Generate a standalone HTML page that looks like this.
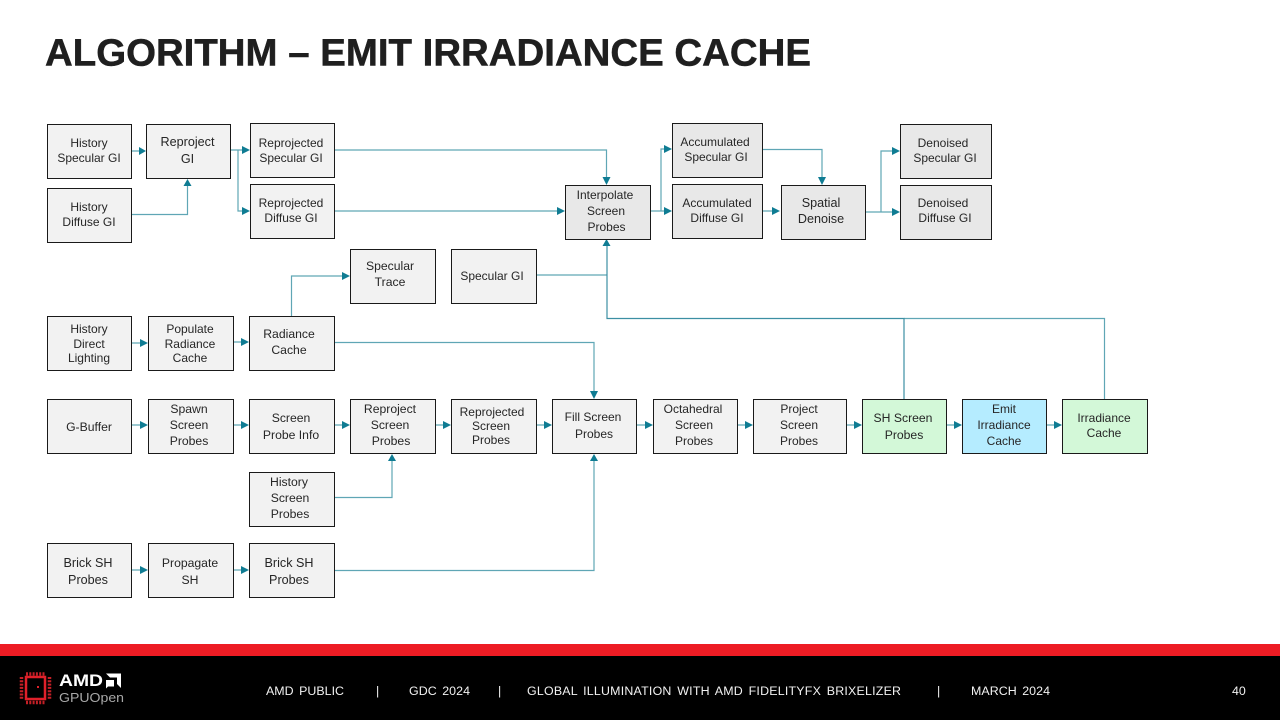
<!DOCTYPE html>
<html><head><meta charset="utf-8"><style>
html,body{margin:0;padding:0;width:1280px;height:720px;overflow:hidden;background:#fff}
svg{display:block}
text{font-family:"Liberation Sans",sans-serif;fill:#262626;text-anchor:middle}
.b{fill:#f2f2f2;stroke:#1a1a1a;stroke-width:1}
.d{fill:#e8e8e8;stroke:#1a1a1a;stroke-width:1}
.g{fill:#d3f8d8;stroke:#1a1a1a;stroke-width:1}
.c{fill:#b5ecff;stroke:#1a1a1a;stroke-width:1}
.l{fill:none;stroke:#5fa6b5;stroke-width:1.2}
.a{fill:#0f7c93}
.s{font-size:12px}.m{font-size:12.2px}.n{font-size:12.6px}
.f{fill:#f2f2f2;font-size:12.4px;text-anchor:start;word-spacing:2px}
</style></head><body>
<svg width="1280" height="720" viewBox="0 0 1280 720" xmlns="http://www.w3.org/2000/svg">
<text x="45" y="65.500" textLength="766" lengthAdjust="spacingAndGlyphs" style="text-anchor:start;font-size:38px;font-weight:bold;fill:#1f1f1f;stroke:#1f1f1f;stroke-width:0.5px">ALGORITHM – EMIT IRRADIANCE CACHE</text>

<!-- connectors -->
<path class="l" d="M131 151H140M230 150H243M238 150V211H243M131 214.500H187.500V185M334 150H606.500V178M334 211H558M650 211H665M661 211V149H665M762 149.500H822V178M762 211H772M865 212H893M881 212V151H893M536 275H607M291.500 316V276H343M904 318.500H1104.500V399M334 342.500H594V392M131 343H141M233 342H242M131 425H141M233 425H242M334 425H343M435 425H444M536 425H545M636 425H646M737 425H746M846 425H855M946 425H955M1046 425H1055M334 497.500H392V460M334 570.500H594V460M131 570H141M233 570H242"/>
<path d="M607 245V318.500H904V399" fill="none" stroke="#3c8fa3" stroke-width="1.200"/>
<g class="a">
<path d="M139 147 146 151 139 155Z"/>
<path d="M183.500 186 187.500 179 191.500 186Z"/>
<path d="M242 146 250 150 242 154Z"/>
<path d="M242 207 250 211 242 215Z"/>
<path d="M602.500 177 606.500 185 610.500 177Z"/>
<path d="M557 207 565 211 557 215Z"/>
<path d="M602.500 246 606.500 239 610.500 246Z"/>
<path d="M664 145 672 149 664 153Z"/>
<path d="M664 207 672 211 664 215Z"/>
<path d="M818 177 822 185 826 177Z"/>
<path d="M772 207 780 211 772 215Z"/>
<path d="M892 147 900 151 892 155Z"/>
<path d="M892 208 900 212 892 216Z"/>
<path d="M342 272 350 276 342 280Z"/>
<path d="M140 339 148 343 140 347Z"/>
<path d="M241 338 249 342 241 346Z"/>
<path d="M590 391 594 399 598 391Z"/>
<path d="M140 421 148 425 140 429Z"/>
<path d="M241 421 249 425 241 429Z"/>
<path d="M342 421 350 425 342 429Z"/>
<path d="M443 421 451 425 443 429Z"/>
<path d="M544 421 552 425 544 429Z"/>
<path d="M645 421 653 425 645 429Z"/>
<path d="M745 421 753 425 745 429Z"/>
<path d="M854 421 862 425 854 429Z"/>
<path d="M954 421 962 425 954 429Z"/>
<path d="M1054 421 1062 425 1054 429Z"/>
<path d="M388 461 392 454 396 461Z"/>
<path d="M590 461 594 454 598 461Z"/>
<path d="M140 566 148 570 140 574Z"/>
<path d="M241 566 249 570 241 574Z"/>
</g>

<!-- boxes -->
<rect class="b" x="47.500" y="124.500" width="84" height="54"/>
<text class="s" x="89" y="147">History</text><text class="s" x="89" y="162">Specular GI</text>
<rect class="b" x="146.500" y="124.500" width="84" height="54"/>
<text class="n" x="187.500" y="146">Reproject</text><text class="n" x="187.500" y="163">GI</text>
<rect class="b" x="250.500" y="123.500" width="84" height="54"/>
<text class="s" x="291" y="147">Reprojected</text><text class="s" x="291" y="162">Specular GI</text>
<rect class="b" x="47.500" y="188.500" width="84" height="54"/>
<text class="s" x="89" y="211">History</text><text class="s" x="89" y="226">Diffuse GI</text>
<rect class="b" x="250.500" y="184.500" width="84" height="54"/>
<text class="s" x="291" y="207">Reprojected</text><text class="s" x="291" y="222">Diffuse GI</text>
<rect class="d" x="565.500" y="185.500" width="85" height="54"/>
<text class="s" x="605" y="199">Interpolate</text><text class="s" x="606" y="215">Screen</text><text class="s" x="606.500" y="231">Probes</text>
<rect class="d" x="672.500" y="123.500" width="90" height="54"/>
<text class="s" x="715" y="146">Accumulated</text><text class="s" x="716" y="161">Specular GI</text>
<rect class="d" x="672.500" y="184.500" width="90" height="54"/>
<text class="s" x="717" y="207">Accumulated</text><text class="s" x="717" y="222">Diffuse GI</text>
<rect class="d" x="781.500" y="185.500" width="84" height="54"/>
<text class="n" x="821" y="207">Spatial</text><text class="n" x="821" y="223">Denoise</text>
<rect class="d" x="900.500" y="124.500" width="91" height="54"/>
<text class="s" x="943" y="147">Denoised</text><text class="s" x="945" y="162">Specular GI</text>
<rect class="d" x="900.500" y="185.500" width="91" height="54"/>
<text class="s" x="943" y="207">Denoised</text><text class="s" x="945" y="222">Diffuse GI</text>
<rect class="b" x="350.500" y="249.500" width="85" height="54"/>
<text class="m" x="390" y="270">Specular</text><text class="m" x="390" y="286">Trace</text>
<rect class="b" x="451.500" y="249.500" width="85" height="54"/>
<text class="s" x="492" y="280">Specular GI</text>
<rect class="b" x="47.500" y="316.500" width="84" height="54"/>
<text class="s" x="89" y="333">History</text><text class="s" x="89" y="348">Direct</text><text class="s" x="89" y="362">Lighting</text>
<rect class="b" x="148.500" y="316.500" width="85" height="54"/>
<text class="s" x="190" y="333">Populate</text><text class="s" x="190" y="348">Radiance</text><text class="s" x="190" y="362">Cache</text>
<rect class="b" x="249.500" y="316.500" width="85" height="54"/>
<text class="m" x="289" y="338">Radiance</text><text class="m" x="289" y="354">Cache</text>

<rect class="b" x="47.500" y="399.500" width="84" height="54"/>
<text class="m" x="89" y="431">G-Buffer</text>
<rect class="b" x="148.500" y="399.500" width="85" height="54"/>
<text class="m" x="189" y="413">Spawn</text><text class="m" x="189" y="429">Screen</text><text class="m" x="189" y="445">Probes</text>
<rect class="b" x="249.500" y="399.500" width="85" height="54"/>
<text class="m" x="291" y="422">Screen</text><text class="m" x="291" y="439">Probe Info</text>
<rect class="b" x="350.500" y="399.500" width="85" height="54"/>
<text class="m" x="390" y="413">Reproject</text><text class="m" x="390" y="429">Screen</text><text class="m" x="391" y="445">Probes</text>
<rect class="b" x="451.500" y="399.500" width="85" height="54"/>
<text class="s" x="492" y="416">Reprojected</text><text class="s" x="491" y="430">Screen</text><text class="s" x="491" y="444">Probes</text>
<rect class="b" x="552.500" y="399.500" width="84" height="54"/>
<text class="s" x="593" y="421">Fill Screen</text><text class="s" x="594" y="438">Probes</text>
<rect class="b" x="653.500" y="399.500" width="84" height="54"/>
<text class="s" x="693" y="413">Octahedral</text><text class="s" x="694" y="429">Screen</text><text class="s" x="694" y="445">Probes</text>
<rect class="b" x="753.500" y="399.500" width="93" height="54"/>
<text class="s" x="799" y="413">Project</text><text class="s" x="799" y="429">Screen</text><text class="s" x="799" y="445">Probes</text>
<rect class="g" x="862.500" y="399.500" width="84" height="54"/>
<text class="m" x="903" y="422">SH Screen</text><text class="m" x="904" y="439">Probes</text>
<rect class="c" x="962.500" y="399.500" width="84" height="54"/>
<text class="s" x="1004" y="413">Emit</text><text class="s" x="1004" y="429">Irradiance</text><text class="s" x="1004" y="445">Cache</text>
<rect class="g" x="1062.500" y="399.500" width="85" height="54"/>
<text class="s" x="1104" y="422">Irradiance</text><text class="s" x="1104" y="437">Cache</text>
<rect class="b" x="249.500" y="472.500" width="85" height="54"/>
<text class="m" x="289" y="486">History</text><text class="m" x="290" y="502">Screen</text><text class="m" x="290" y="518">Probes</text>
<rect class="b" x="47.500" y="543.500" width="84" height="54"/>
<text class="n" x="88" y="567">Brick SH</text><text class="n" x="88" y="584">Probes</text>
<rect class="b" x="148.500" y="543.500" width="85" height="54"/>
<text class="m" x="190" y="567">Propagate</text><text class="m" x="190" y="584">SH</text>
<rect class="b" x="249.500" y="543.500" width="85" height="54"/>
<text class="n" x="289" y="567">Brick SH</text><text class="n" x="289" y="584">Probes</text>

<!-- footer -->
<rect x="0" y="644" width="1280" height="12" fill="#ed1c24"/>
<rect x="0" y="656" width="1280" height="64" fill="#000"/>
<rect x="26" y="677" width="19" height="22" fill="none" stroke="#e0202a" stroke-width="2.500"/>
<path d="M26 674H45M26 702.500H45M21.500 677V699M49.500 677V699" fill="none" stroke="#c41f26" stroke-width="3.500" stroke-dasharray="2 1.300"/>
<rect x="37" y="686" width="2" height="2" fill="#e0202a"/>
<text x="59" y="686" textLength="44" lengthAdjust="spacingAndGlyphs" style="text-anchor:start;font-size:16.500px;font-weight:bold;fill:#fff">AMD</text>
<path d="M106 673.500H121V688L117 684V677.500H110ZM106 680H114V686.500H108L106 688.500Z" fill="#fff"/>
<text x="59" y="702" textLength="65" lengthAdjust="spacingAndGlyphs" style="text-anchor:start;font-size:12.500px;fill:#a8a8a8">GPUOpen</text>
<text class="f" x="266" y="695" textLength="78">AMD PUBLIC</text>
<text class="f" x="376" y="695">|</text>
<text class="f" x="409" y="695" textLength="61">GDC 2024</text>
<text class="f" x="498" y="695">|</text>
<text class="f" x="527" y="695" textLength="374">GLOBAL ILLUMINATION WITH AMD FIDELITYFX BRIXELIZER</text>
<text class="f" x="937" y="695">|</text>
<text class="f" x="971" y="695" textLength="79">MARCH 2024</text>
<text class="f" x="1232" y="695">40</text>
</svg>
</body></html>
